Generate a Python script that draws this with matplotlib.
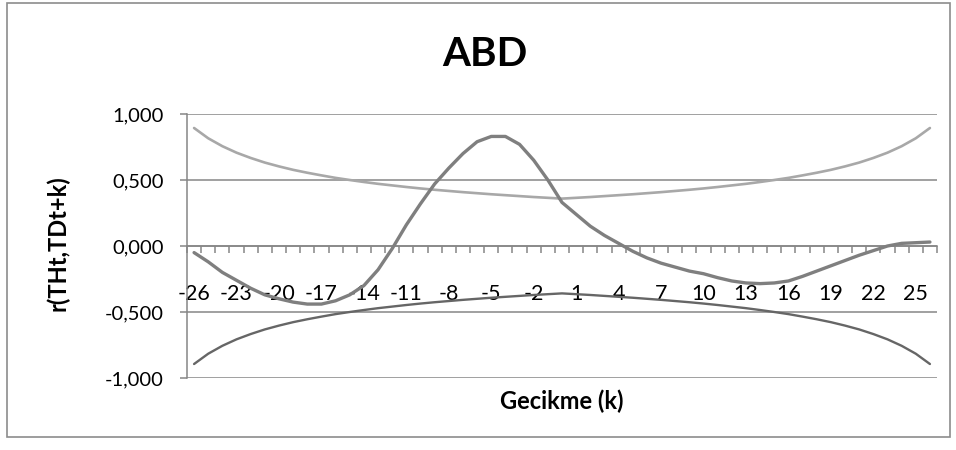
import matplotlib
matplotlib.use("Agg")
import matplotlib.pyplot as plt
from matplotlib.patches import Rectangle
from matplotlib.ticker import FixedLocator, FixedFormatter

plt.rcParams['font.family'] = ['Lato', 'DejaVu Sans']

lags = [-26, -25, -24, -23, -22, -21, -20, -19, -18, -17, -16, -15, -14, -13,
        -12, -11, -10, -9, -8, -7, -6, -5, -4, -3, -2, -1, 0, 1, 2, 3, 4, 5,
        6, 7, 8, 9, 10, 11, 12, 13, 14, 15, 16, 17, 18, 19, 20, 21, 22, 23,
        24, 25, 26]

corr = [-0.05, -0.12, -0.20, -0.26, -0.32, -0.37, -0.40, -0.425, -0.44, -0.44,
        -0.415, -0.37, -0.30, -0.18, -0.02, 0.16, 0.32, 0.47, 0.59, 0.70, 0.79,
        0.83, 0.83, 0.77, 0.65, 0.50, 0.33, 0.24, 0.15, 0.08, 0.02, -0.04,
        -0.09, -0.13, -0.16, -0.19, -0.21, -0.24, -0.265, -0.28, -0.285, -0.28,
        -0.265, -0.23, -0.19, -0.15, -0.11, -0.07, -0.035, 0.00, 0.02, 0.025,
        0.03]

upper = [0.894, 0.816, 0.756, 0.707, 0.667, 0.632, 0.603, 0.577, 0.555, 0.535,
         0.516, 0.500, 0.485, 0.471, 0.459, 0.447, 0.436, 0.426, 0.417, 0.408,
         0.400, 0.392, 0.385, 0.378, 0.371, 0.365, 0.359, 0.365, 0.371, 0.378,
         0.385, 0.392, 0.400, 0.408, 0.417, 0.426, 0.436, 0.447, 0.459, 0.471,
         0.485, 0.500, 0.516, 0.535, 0.555, 0.577, 0.603, 0.632, 0.667, 0.707,
         0.756, 0.816, 0.894]

lower = [-0.894, -0.816, -0.756, -0.707, -0.667, -0.632, -0.603, -0.577, -0.555,
         -0.535, -0.516, -0.500, -0.485, -0.471, -0.459, -0.447, -0.436, -0.426,
         -0.417, -0.408, -0.400, -0.392, -0.385, -0.378, -0.371, -0.365, -0.359,
         -0.365, -0.371, -0.378, -0.385, -0.392, -0.400, -0.408, -0.417, -0.426,
         -0.436, -0.447, -0.459, -0.471, -0.485, -0.500, -0.516, -0.535, -0.555,
         -0.577, -0.603, -0.632, -0.667, -0.707, -0.756, -0.816, -0.894]

y_ticks = [-1.0, -0.5, 0.0, 0.5, 1.0]
y_tick_labels = ["-1,000", "-0,500", "0,000", "0,500", "1,000"]

title = "ABD"
x_title = "Gecikme (k)"
y_title = "r(THt,TDt+k)"

fig = plt.figure(figsize=(9.56, 4.5), dpi=100)
ax = fig.add_axes([187 / 956, 1 - 378 / 450, 750 / 956, 264 / 450])

pos = list(range(len(lags)))
grid_c = "#868686"

ax.plot(pos, upper, color="#A8A8A8", lw=1.9, solid_capstyle="round", zorder=3)
ax.plot(pos, lower, color="#666666", lw=1.7, solid_capstyle="round", zorder=3)
ax.plot(pos, corr, color="#7F7F7F", lw=2.4, solid_capstyle="round",
        solid_joinstyle="round", zorder=4)

ax.set_xlim(-0.5, len(lags) - 0.5)
ax.set_ylim(-1.0, 1.0)

# y axis
ax.yaxis.set_major_locator(FixedLocator(y_ticks))
ax.yaxis.set_major_formatter(FixedFormatter(y_tick_labels))
ax.tick_params(axis="y", direction="out", length=5, width=1.1, color=grid_c,
               labelsize=14.5, pad=12, labelcolor="black")
ax.yaxis.grid(True, color=grid_c, lw=1.1)
ax.set_axisbelow(True)

# x axis at zero
ax.spines["bottom"].set_position(("data", 0))
for s in ["top", "right"]:
    ax.spines[s].set_visible(False)
ax.spines["bottom"].set_color(grid_c)
ax.spines["bottom"].set_linewidth(1.1)
ax.spines["left"].set_color(grid_c)
ax.spines["left"].set_linewidth(1.1)

major = [p for p in pos if p % 3 == 0]
ax.xaxis.set_major_locator(FixedLocator(major))
ax.xaxis.set_major_formatter(FixedFormatter([str(lags[p]) for p in major]))
ax.xaxis.set_minor_locator(FixedLocator([p - 0.5 for p in pos] + [len(lags) - 0.5]))
ax.tick_params(axis="x", which="major", length=0, labelsize=15.5, pad=27,
               labelcolor="black")
ax.tick_params(axis="x", which="minor", direction="out", length=5, width=1.1,
               color=grid_c)

fig.text(485 / 956, 1 - 54 / 450, title, ha="center", va="center",
         fontsize=29, fontweight="bold")
fig.text(562 / 956, 1 - 401 / 450, x_title, ha="center", va="center",
         fontsize=17, fontweight="bold")
fig.text(58 / 956, 1 - 243 / 450, y_title, ha="center", va="center",
         fontsize=17, fontweight="bold", rotation=90)

fig.patches.append(Rectangle((7 / 956, 1 - 437 / 450), 943 / 956, 434 / 450,
                             transform=fig.transFigure, fill=False,
                             edgecolor="#8C8C8C", lw=1.2))

fig.savefig("out.png", dpi=100)
